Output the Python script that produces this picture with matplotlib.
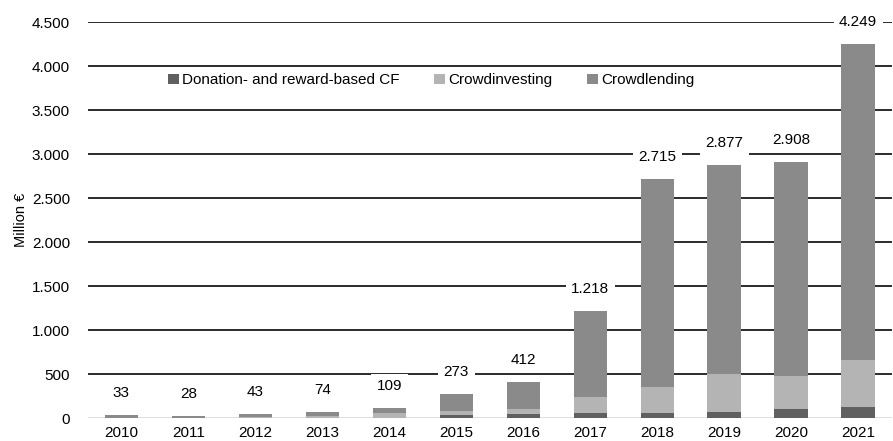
import numpy as np
import matplotlib.pyplot as plt
from matplotlib.ticker import FuncFormatter

plt.rcParams['font.family'] = ['Liberation Sans', 'DejaVu Sans']

years = ['2010', '2011', '2012', '2013', '2014', '2015',
         '2016', '2017', '2018', '2019', '2020', '2021']
totals = [33, 28, 43, 74, 109, 273, 412, 1218, 2715, 2877, 2908, 4249]
donation = [2, 2, 3, 5, 5, 30, 41, 52, 60, 64, 98, 125]
investing = [3, 3, 5, 20, 52, 50, 65, 182, 288, 432, 383, 530]
# crowdlending is whatever is left of the yearly total
lending = [t - d - i for t, d, i in zip(totals, donation, investing)]

c_don = '#606060'
c_inv = '#b4b4b4'
c_len = '#8a8a8a'

fig = plt.figure(figsize=(8.93, 4.41), dpi=100)
ax = fig.add_axes([0.0985, 0.052, 0.9, 0.898])

x = np.arange(len(years))
w = 0.5
bottom2 = np.array(donation) + np.array(investing)
ax.bar(x, donation, w, color=c_don, label='Donation- and reward-based CF', zorder=2)
ax.bar(x, investing, w, bottom=donation, color=c_inv, label='Crowdinvesting', zorder=2)
ax.bar(x, lending, w, bottom=bottom2, color=c_len, label='Crowdlending', zorder=2)

# gridlines behind the bars, light baseline at zero
for v in range(500, 4501, 500):
    ax.axhline(v, color='#1a1a1a', lw=1.3, zorder=1)
ax.axhline(0, color='#d9d9d9', lw=1.2, zorder=1)

# totals above each bar, boxed in white so the gridlines break around them
for xi, t in zip(x, totals):
    s = f'{t:,}'.replace(',', '.')
    ax.text(xi, t + 250, s, ha='center', va='center', fontsize=11,
            bbox=dict(facecolor='white', edgecolor='none', pad=4), zorder=3,
            clip_on=False)

ax.set_xlim(-0.5, len(years) - 0.5)
ax.set_ylim(0, 4500)
ax.set_yticks(range(0, 4501, 500))
ax.yaxis.set_major_formatter(FuncFormatter(lambda v, p: f'{int(v):,}'.replace(',', '.')))
ax.set_xticks(x)
ax.set_xticklabels(years)
ax.tick_params(axis='both', length=0, labelsize=11)
ax.tick_params(axis='x', pad=6)
ax.tick_params(axis='y', pad=13)
ax.set_ylabel('Million €', fontsize=10.5, labelpad=3)
for sp in ax.spines.values():
    sp.set_visible(False)

ax.legend(loc='center', bbox_to_anchor=(0.427, 0.853), ncol=3, frameon=False,
          fontsize=11, handlelength=0.7, handleheight=0.7, handletextpad=0.2,
          columnspacing=2.3)

fig.savefig('out.png', dpi=100)
